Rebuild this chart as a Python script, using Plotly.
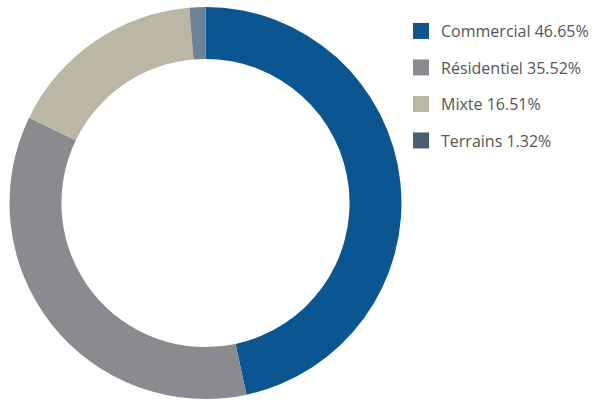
import plotly.graph_objects as go

categories = ["Commercial", "Résidentiel", "Mixte", "Terrains"]
values = [46.65, 35.52, 16.51, 1.32]
legend_colors = ["#0b5590", "#8a8b8f", "#bcb6a5", "#4b5e71"]
slice_colors = ["#0b5590", "#8a8b8f", "#bcb6a5", "#6c8395"]
labels = [f"{c} {v:.2f}%" for c, v in zip(categories, values)]

fig = go.Figure()
fig.add_trace(go.Pie(
    labels=categories, values=values, sort=False, direction="clockwise",
    rotation=0, hole=0.735, marker=dict(colors=slice_colors, line=dict(width=0)),
    textinfo="none", hoverinfo="label+percent", showlegend=False,
    domain=dict(x=[0.0151, 0.6756], y=[0.005, 0.9825]),
))
for lab, col in zip(labels, legend_colors):
    fig.add_trace(go.Scatter(
        x=[None], y=[None], mode="markers", name=lab, legendgroup=lab,
        marker=dict(symbol="square", size=16, color=col),
    ))

fig.update_layout(
    width=595, height=401, margin=dict(l=0, r=0, t=0, b=0),
    paper_bgcolor="white", plot_bgcolor="white",
    xaxis=dict(visible=False), yaxis=dict(visible=False),
    legend=dict(x=0.674, y=0.965, xanchor="left", yanchor="top",
                font=dict(family="Open Sans", size=16, color="#555555"),
                tracegroupgap=12.7, itemsizing="trace"),
)
fig.write_html("out.html")
